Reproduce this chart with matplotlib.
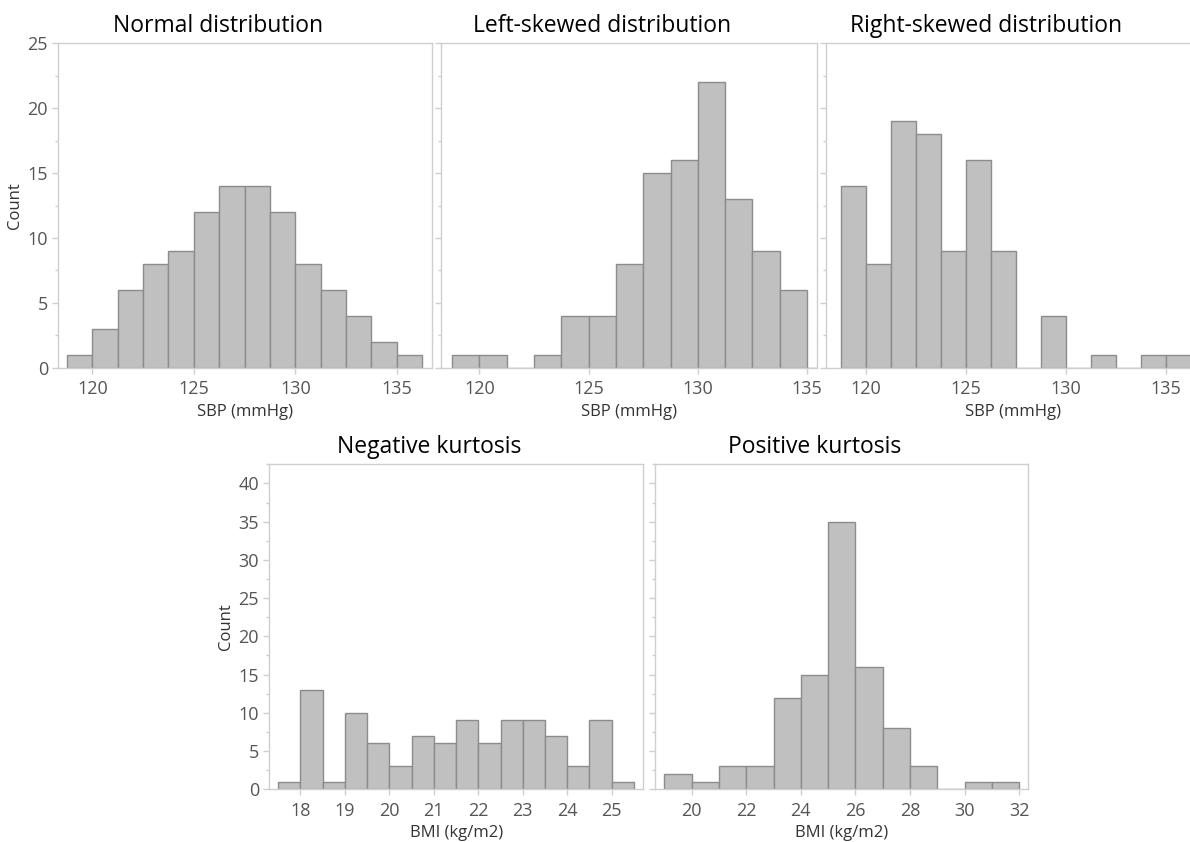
import matplotlib
matplotlib.use("Agg")
import matplotlib.pyplot as plt
import numpy as np
from matplotlib.ticker import MultipleLocator

plt.rcParams['font.family'] = ['Open Sans', 'DejaVu Sans']

# ---- data ----
sbp_edges = [118.75 + 1.25 * i for i in range(15)]
normal_counts = [1, 3, 6, 8, 9, 12, 14, 14, 12, 8, 6, 4, 2, 1]
left_counts = [1, 1, 0, 1, 4, 4, 8, 15, 16, 22, 13, 9, 6, 0]
right_counts = [14, 8, 19, 18, 9, 16, 9, 0, 4, 0, 1, 0, 1, 1]

negk_edges = [17.5 + 0.5 * i for i in range(17)]
negk_counts = [1, 13, 1, 10, 6, 3, 7, 6, 9, 6, 9, 9, 7, 3, 9, 1]

posk_edges = [19 + i for i in range(14)]
posk_counts = [2, 1, 3, 3, 12, 15, 35, 16, 8, 3, 0, 1, 1]

titles = ["Normal distribution", "Left-skewed distribution", "Right-skewed distribution",
          "Negative kurtosis", "Positive kurtosis"]
sbp_label = "SBP (mmHg)"
bmi_label = "BMI (kg/m2)"
sbp_ticks = [120, 125, 130, 135]
negk_ticks = [18, 19, 20, 21, 22, 23, 24, 25]
posk_ticks = [20, 22, 24, 26, 28, 30, 32]

W, H = 1190, 842
fig = plt.figure(figsize=(W / 100, H / 100), dpi=100)

BAR = '#c0c0c0'
EDGE = '#8c8c8c'
SPINE = '#cfcfcf'
TICKC = '#555555'

def make_ax(l, r, t, b):
    return fig.add_axes([l / W, 1 - b / H, (r - l) / W, (b - t) / H])

def style(ax, show_ylabels):
    for s in ax.spines.values():
        s.set_color(SPINE)
        s.set_linewidth(1.0)
    ax.tick_params(axis='both', colors=SPINE, labelcolor=TICKC, labelsize=13,
                   length=4, width=1, direction='out')
    ax.tick_params(axis='x', pad=5)
    ax.tick_params(axis='y', which='minor', colors=SPINE, length=2.5, width=1)
    ax.yaxis.set_minor_locator(MultipleLocator(2.5))
    if not show_ylabels:
        ax.tick_params(axis='y', labelleft=False)

top_t, top_b = 43.3, 367.7
bot_t, bot_b = 464.3, 789.3

panels = [
    (58.3, 431.7, top_t, top_b, sbp_edges, normal_counts, (118.32, 136.72), (0, 25), sbp_ticks, sbp_label, True),
    (440.5, 816.7, top_t, top_b, sbp_edges, left_counts, (118.22, 135.44), (0, 25), sbp_ticks, sbp_label, False),
    (826.0, 1200.0, top_t, top_b, sbp_edges, right_counts, (118.0, 136.72), (0, 25), sbp_ticks, sbp_label, False),
    (269.3, 643.3, bot_t, bot_b, negk_edges, negk_counts, (17.30, 25.71), (0, 42.5), negk_ticks, bmi_label, True),
    (655.0, 1028.3, bot_t, bot_b, posk_edges, posk_counts, (18.66, 32.33), (0, 42.5), posk_ticks, bmi_label, False),
]

for i, (l, r, t, b, edges, counts, xl, yl, xt, xlab, showy) in enumerate(panels):
    ax = make_ax(l, r, t, b)
    e = np.array(edges)
    c = np.array(counts)
    ax.bar(e[:-1], c, width=np.diff(e), align='edge', color=BAR,
           edgecolor=EDGE, linewidth=1.0, zorder=2)
    ax.set_xlim(*xl)
    ax.set_ylim(*yl)
    ax.set_xticks(xt)
    if yl[1] == 25:
        ax.set_yticks([0, 5, 10, 15, 20, 25])
    else:
        ax.set_yticks([0, 5, 10, 15, 20, 25, 30, 35, 40])
    style(ax, showy)
    ax.set_xlabel(xlab, fontsize=12, color='#333333', labelpad=4)
    if showy:
        ax.set_ylabel("Count", fontsize=12, color='#333333', labelpad=3)
    cx = (l + r) / 2 - 27
    ty = 26 if t == top_t else 447
    fig.text(cx / W, 1 - ty / H, titles[i], ha='center', va='center',
             fontsize=16.5, color='black')

fig.savefig("out.png", dpi=100)
